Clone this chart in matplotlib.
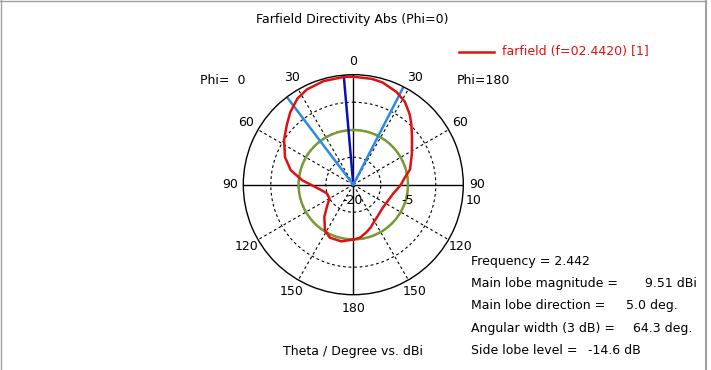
import numpy as np
import matplotlib
matplotlib.use("Agg")
import matplotlib.pyplot as plt
from matplotlib.lines import Line2D

# farfield cut: negative theta = Phi=0 side (left), positive theta = Phi=180 side (right)
theta_deg = [-180, -168, -156, -148, -138, -130, -120, -108, -98, -90, -85, -77, -68, -57,
             -48, -41, -33, -26, -16, -5, 0, 10, 16, 25, 32, 39, 44, 51, 62, 75, 83, 90,
             102, 115, 128, 140, 150, 158, 165, 173, 180]
directivity_dbi = [-5.05, -4.2, -4.2, -5.4, -8.2, -10.6, -12.5, -12.4, -10.8, -8.4, -6.0, -2.5,
                   0.1, 2.5, 4.4, 6.2, 8.0, 8.9, 9.4, 9.51, 9.45, 9.3, 9.0, 7.9, 6.6, 4.5, 2.8,
                   0.6, -1.9, -4.0, -6.0, -7.0, -8.8, -9.6, -9.8, -9.3, -8.5, -7.4, -6.5, -5.4,
                   -5.05]

angle_ticks = [0, 30, 60, 90, 120, 150, 180, 210, 240, 270, 300, 330]
angle_labels = ["0", "30", "60", "90", "120", "150", "180", "150", "120", "90", "60", "30"]
ring_levels = [-12.5, -5, 2.5]
r_min, r_max = -20, 10

frequency = 2.442
main_lobe_mag = 9.51
main_lobe_dir = 5.0
beam_width = 64.3
side_lobe_level = -14.6

W, H = 711, 370
fig = plt.figure(figsize=(W / 100, H / 100), dpi=100)
plt.rcParams['font.family'] = 'DejaVu Sans'
fs = 9


def px(x, y):
    return x / W, 1 - y / H


# polar axes placed so the center sits at (353, 185) px with 110 px radius
cx, cy, R = 353.3, 184.7, 110
ax = fig.add_axes([(cx - R) / W, (H - cy - R) / H, 2 * R / W, 2 * R / H], projection='polar')
ax.set_theta_zero_location('N')
ax.set_theta_direction(-1)
ax.set_ylim(r_min, r_max)
ax.set_xticks([])
ax.set_yticks([])
ax.grid(False)
ax.spines['polar'].set_linewidth(1.0)

full = np.linspace(0, 2 * np.pi, 361)
for lev in ring_levels:
    ax.plot(full, [lev] * len(full), color='black', lw=0.8, ls=(0, (2.5, 2.5)))
for a in angle_ticks:
    t = np.radians(a)
    if a % 90 == 0:
        ax.plot([t, t], [r_min, r_max], color='black', lw=1.0)
    else:
        ax.plot([t, t], [r_min, r_max], color='black', lw=0.8, ls=(0, (2.5, 2.5)))

for a, lab in zip(angle_ticks, angle_labels):
    ax.text(np.radians(a), 13.7, lab, ha='center', va='center', fontsize=fs)

# side lobe level circle
sll = main_lobe_mag + side_lobe_level
ax.plot(full, [sll] * len(full), color='#7a9a34', lw=1.8)

# main lobe direction and 3 dB beam width lines
md = np.radians(-main_lobe_dir)
ax.plot([md, md], [r_min, r_max], color='#0a10b8', lw=1.8)
for edge in (-main_lobe_dir - beam_width / 2, -main_lobe_dir + beam_width / 2):
    e = np.radians(edge)
    ax.plot([e, e], [r_min, r_max], color='#2a8ae8', lw=1.8)

ax.plot(np.radians(theta_deg), directivity_dbi, color='#e01010', lw=1.8)

# radial scale labels
fig.text(*px(353, 201), "-20", ha='center', va='center', fontsize=fs)
fig.text(*px(407.5, 201), "-5", ha='center', va='center', fontsize=fs)
fig.text(*px(473.5, 201), "10", ha='center', va='center', fontsize=fs)

fig.text(*px(352, 19), "Farfield Directivity Abs (Phi=0)", ha='center', va='center', fontsize=fs)
fig.text(*px(200, 81), "Phi=  0", ha='left', va='center', fontsize=fs)
fig.text(*px(457, 81), "Phi=180", ha='left', va='center', fontsize=fs)
fig.add_artist(Line2D([459 / W, 494 / W], [1 - 52 / H, 1 - 52 / H], color='#e01010', lw=1.8))
fig.text(*px(502, 52), "farfield (f=02.4420) [1]", ha='left', va='center', fontsize=fs,
         color='#e01010')
fig.text(*px(353, 351), "Theta / Degree vs. dBi", ha='center', va='center', fontsize=fs)

info = [
    ("Frequency = %.3f" % frequency, None, 0),
    ("Main lobe magnitude =", "%.2f dBi" % main_lobe_mag, 645),
    ("Main lobe direction =", "%.1f deg." % main_lobe_dir, 626),
    ("Angular width (3 dB) =", "%.1f deg." % beam_width, 633),
    ("Side lobe level =", "%.1f dB" % side_lobe_level, 588),
]
for i, (lab, val, vx) in enumerate(info):
    y = 261.5 + i * 22.2
    fig.text(*px(471, y), lab, ha='left', va='center', fontsize=fs)
    if val is not None:
        fig.text(*px(vx, y), val, ha='left', va='center', fontsize=fs)

# window frame
fig.add_artist(Line2D([0.5 / W, 0.5 / W], [0, 1], color='#a0a0a0', lw=1))
fig.add_artist(Line2D([0, 706 / W], [1 - 0.5 / H, 1 - 0.5 / H], color='#a0a0a0', lw=1))
fig.add_artist(Line2D([706 / W, 706 / W], [0, 1], color='#a0a0a0', lw=1.5))

fig.savefig("out.png", dpi=100)
